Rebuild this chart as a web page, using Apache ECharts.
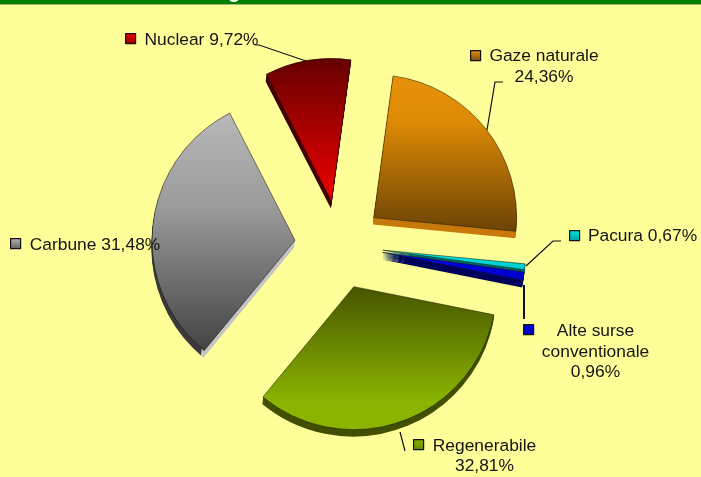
<!DOCTYPE html>
<html>
<head>
<meta charset="utf-8">
<style>
  html, body { margin: 0; padding: 0; background: #ffff99; }
  #chart { width: 701px; height: 477px; }
</style>
<script src="https://cdn.jsdelivr.net/npm/echarts@6/dist/echarts.min.js"></script>
</head>
<body>
<div id="chart"></div>
<script>
// clockwise from the gaze slice
const categories = ["Gaze naturale", "Pacura", "Alte surse conventionale", "Regenerabile", "Carbune", "Nuclear"];
const labelNames = ["Gaze naturale\n", "Pacura ", "Alte surse\nconventionale\n", "Regenerabile\n", "Carbune ", "Nuclear "];
const shares = [24.36, 0.67, 0.96, 32.81, 31.48, 9.72];

const grad = (x, y, x2, y2, stops) => ({
  type: "linear", x, y, x2, y2,
  colorStops: stops.map(([offset, color]) => ({ offset, color })),
});
const vert = (...stops) => grad(0, 0, 0, 1, stops);

const faceColors = [
  vert([0, "#e8920a"], [0.3, "#dd8a05"], [1, "#6b4306"]),
  vert([0, "#00e6e6"], [1, "#00c8c8"]),
  vert([0, "#0000e6"], [1, "#0000c8"]),
  vert([0, "#475500"], [0.8, "#8ab400"], [1, "#8ab400"]),
  vert([0, "#b8b8b8"], [0.4, "#9a9a9a"], [1, "#434343"]),
  vert([0, "#650000"], [1, "#f00000"]),
];
const sideColors = [
  "#c77a0c",
  "#006a6a",
  "#00005c",
  "#434f00",
  grad(0, 0, 1, 0, [[0, "#3a3a3a"], [0.345, "#3a3a3a"], [0.35, "#c4c4c4"], [1, "#c4c4c4"]]),
  "#450000",
];
const keyColors = [
  vert([0, "#e8920a"], [1, "#7a4d06"]),
  vert([0, "#00e6e6"], [1, "#00a0a0"]),
  vert([0, "#0000f0"], [1, "#0000b0"]),
  vert([0, "#8ab400"], [1, "#6a8a00"]),
  vert([0, "#b8b8b8"], [1, "#606060"]),
  vert([0, "#f00000"], [1, "#900000"]),
];

// hand placed, same order as categories
const labelPos = [[544, 66.5], [642.5, 236], [595.5, 352], [484.5, 456], [95, 245], [201.5, 40]];
const keyPos = [[470, 50], [569, 230], [523, 324], [413, 439], [10, 238], [125, 33]];
const leaders = [
  [[503, 82], [495, 82], [487, 130]],
  [[561, 241], [553, 241], [526, 266]],
  [[524, 319], [524, 285]],
  [[405, 451], [400, 432]],
  [],
  [[255, 45], [259, 45], [306, 61]],
];
const leaderWidths = [1.2, 1.2, 2, 1.2, 0, 1.2];

const centerX = 339;
const centerY = 245;
const radius = 143;
const explode = 44.2;
const depth = 7;

const percent = (v) => v.toFixed(2).replace(".", ",") + "%";

function pieBase(cx, cy) {
  return {
    type: "pie",
    center: [cx, cy],
    radius: [0, radius],
    startAngle: 82.2,
    selectedMode: "multiple",
    selectedOffset: explode,
    avoidLabelOverlap: false,
    silent: true,
    animation: false,
    emphasis: { disabled: true },
  };
}

function explodedData(colors, extra) {
  return categories.map((name, i) => {
    const itemStyle = { color: colors[i], ...extra };
    return { name, value: shares[i], selected: true, itemStyle, select: { itemStyle } };
  });
}

const series = [];
// side walls: the same pie repeated a pixel lower each time
for (let d = depth; d >= 1; d--) {
  series.push({
    ...pieBase(centerX - d * 0.1, centerY + d),
    label: { show: false },
    labelLine: { show: false },
    data: explodedData(sideColors, { borderWidth: 0 }),
  });
}
series.push({
  ...pieBase(centerX, centerY),
  label: { show: false },
  labelLine: { show: false },
  data: explodedData(faceColors, { borderColor: "rgba(20,20,0,0.65)", borderWidth: 0.8 }),
});
// labels ride on an unexploded see-through copy, a selected slice ignores labelLayout
series.push({
  ...pieBase(centerX, centerY),
  selectedMode: false,
  z: 5,
  label: {
    show: true,
    position: "outside",
    fontFamily: "Liberation Sans",
    fontSize: 17.4,
    lineHeight: 20.5,
    color: "#141414",
    formatter: (p) => labelNames[p.dataIndex] + percent(p.value),
  },
  labelLine: { show: true },
  labelLayout: (p) => ({
    x: labelPos[p.dataIndex][0],
    y: labelPos[p.dataIndex][1],
    align: "center",
    verticalAlign: "middle",
    labelLinePoints: leaders[p.dataIndex],
  }),
  data: categories.map((name, i) => ({
    name,
    value: shares[i],
    itemStyle: { color: "rgba(0,0,0,0)", borderWidth: 0 },
    labelLine: {
      show: leaders[i].length > 0,
      lineStyle: { color: "#111", width: leaderWidths[i] },
    },
  })),
});

const chart = echarts.init(document.getElementById("chart"), null, { renderer: "canvas" });
chart.setOption({
  animation: false,
  backgroundColor: "#ffff99",
  legend: categories.map((name, i) => ({
    left: keyPos[i][0],
    top: keyPos[i][1],
    padding: 0,
    itemWidth: 10,
    itemHeight: 10,
    selectedMode: false,
    icon: "rect",
    formatter: () => "",
    data: [{
      name,
      itemStyle: { color: keyColors[i], borderColor: "#111", borderWidth: 1.2 },
    }],
  })),
  graphic: [
    { type: "rect", left: 0, top: 0, z: 10, shape: { width: 701, height: 4 }, style: { fill: "#008000" } },
    { type: "rect", left: 0, top: 4, z: 10, shape: { width: 701, height: 1 }, style: { fill: "#a8b070" } },
    {
      type: "text", x: 234, y: -8, z: 11,
      style: { text: "g", fill: "#fff", font: "bold 20px 'Liberation Sans'", align: "center", verticalAlign: "middle" },
    },
  ],
  series,
});
</script>
</body>
</html>
